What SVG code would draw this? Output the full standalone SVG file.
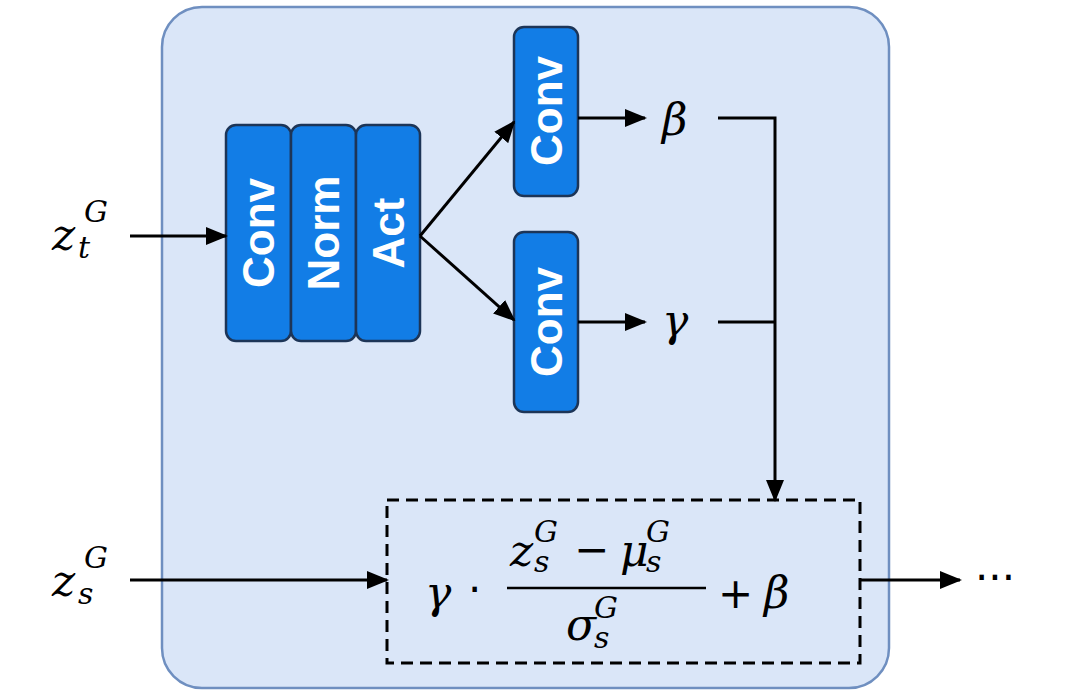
<svg xmlns="http://www.w3.org/2000/svg" width="1080" height="692" viewBox="0 0 1080 692">
<defs>
<marker id="ah" markerWidth="22" markerHeight="18" refX="20" refY="9" orient="auto" markerUnits="userSpaceOnUse" viewBox="0 0 22 18">
<path d="M0,0 L22,9 L0,18 z" fill="#000"/></marker>
<style>
.blk{fill:#127de6;stroke:#1d3557;stroke-width:2.5}
.bt{fill:#fff;font-family:"Liberation Sans",Arial,sans-serif;font-weight:bold;font-size:44px;text-anchor:middle;dominant-baseline:central}
.ln{stroke:#000;stroke-width:3;fill:none}
.m{font-family:"DejaVu Serif","Liberation Serif",serif;font-style:italic;font-size:44px}
.ms{font-family:"DejaVu Serif","Liberation Serif",serif;font-style:italic;font-size:30px}
.mr{font-family:"DejaVu Sans","Liberation Sans",sans-serif;font-size:42px}
</style>
</defs>
<rect x="162" y="7" width="727" height="681" rx="40" fill="#dae6f8" stroke="#6f8fc0" stroke-width="2.5"/>
<g id="conv1"><rect class="blk" x="226" y="125" width="65" height="216" rx="10"/><text class="bt" transform="translate(258,233) rotate(-90)">Conv</text></g>
<g id="norm"><rect class="blk" x="291" y="125" width="65" height="216" rx="10"/><text class="bt" transform="translate(323,233) rotate(-90)">Norm</text></g>
<g id="act"><rect class="blk" x="356" y="125" width="64" height="216" rx="10"/><text class="bt" transform="translate(388,233) rotate(-90)">Act</text></g>
<g id="convb"><rect class="blk" x="514" y="27" width="64" height="169" rx="10"/><text class="bt" transform="translate(546,111) rotate(-90)">Conv</text></g>
<g id="convg"><rect class="blk" x="514" y="232" width="64" height="180" rx="10"/><text class="bt" transform="translate(546,322) rotate(-90)">Conv</text></g>
<g id="labels">
<text class="m" x="52" y="250">z</text><text class="ms" x="78" y="258">t</text><text class="ms" x="84" y="222">G</text>
<text class="m" x="52" y="596">z</text><text class="ms" x="78" y="604">s</text><text class="ms" x="84" y="568">G</text>
<text class="m" x="662" y="135">β</text>
<text class="m" x="662" y="336">γ</text>
<text class="mr" x="975" y="592">···</text>
</g>
<g id="connectors">
<line class="ln" x1="130" y1="236" x2="226" y2="236" marker-end="url(#ah)"/>
<line class="ln" x1="420" y1="236" x2="514" y2="122" marker-end="url(#ah)"/>
<line class="ln" x1="420" y1="236" x2="514" y2="320" marker-end="url(#ah)"/>
<line class="ln" x1="578" y1="118" x2="645" y2="118" marker-end="url(#ah)"/>
<line class="ln" x1="578" y1="322" x2="645" y2="322" marker-end="url(#ah)"/>
<polyline class="ln" points="718,118 775,118 775,500" marker-end="url(#ah)"/>
<line class="ln" x1="718" y1="322" x2="775" y2="322"/>
<line class="ln" x1="130" y1="580" x2="387" y2="580" marker-end="url(#ah)"/>
<line class="ln" x1="860" y1="580" x2="960" y2="580" marker-end="url(#ah)"/>
</g>
<g id="formula">
<rect x="387" y="500" width="473" height="163" fill="none" stroke="#000" stroke-width="3" stroke-dasharray="12,7"/>
<text class="m" x="425" y="608">γ</text>
<text class="mr" x="468" y="604">·</text>
<text class="m" x="510" y="566">z</text><text class="ms" x="534" y="572">s</text><text class="ms" x="534" y="542">G</text>
<text class="mr" x="574" y="564">−</text>
<text class="m" x="620" y="566">μ</text><text class="ms" x="646" y="572">s</text><text class="ms" x="646" y="542">G</text>
<line x1="507" y1="588" x2="706" y2="588" stroke="#000" stroke-width="2.5"/>
<text class="m" x="566" y="640">σ</text><text class="ms" x="594" y="648">s</text><text class="ms" x="594" y="618">G</text>
<text class="mr" x="718" y="608">+</text>
<text class="m" x="764" y="608">β</text>
</g>
</svg>
